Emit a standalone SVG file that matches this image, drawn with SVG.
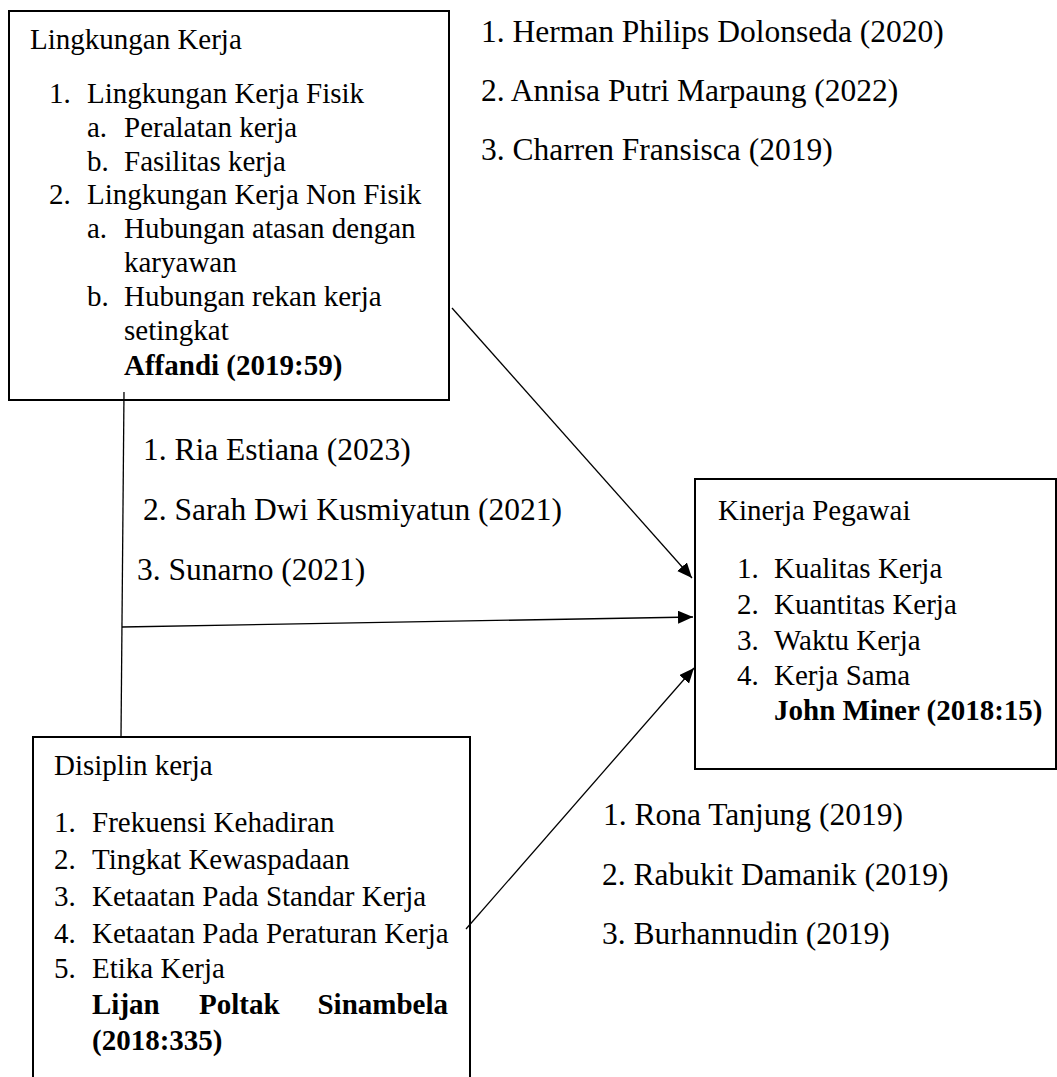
<svg xmlns="http://www.w3.org/2000/svg" width="1057" height="1077" viewBox="0 0 1057 1077">
<style>
.t{font-family:"Liberation Serif","Times New Roman",serif;font-size:29px;fill:#000}
.c{font-family:"Liberation Serif","Times New Roman",serif;font-size:31.5px;fill:#000}
.b{font-weight:bold}
.box{fill:none;stroke:#000;stroke-width:2}
.con{stroke:#000;stroke-width:1.3;fill:none}
</style>
<defs>
<marker id="arr" markerUnits="userSpaceOnUse" markerWidth="16" markerHeight="14" refX="15" refY="6.5" orient="auto">
<path d="M0,0 L15,6.5 L0,13 Z" fill="#000"/>
</marker>
</defs>
<rect width="1057" height="1077" fill="#fff"/>
<g id="connectors">
<line class="con" x1="452" y1="308" x2="692" y2="578" marker-end="url(#arr)"/>
<line class="con" x1="122" y1="627" x2="693" y2="617" marker-end="url(#arr)"/>
<line class="con" x1="124" y1="392" x2="121" y2="737"/>
<line class="con" x1="466" y1="929" x2="694" y2="668" marker-end="url(#arr)"/>
</g>
<g id="lingkungan-kerja">
<rect class="box" x="9" y="11" width="440" height="389"/>
<text class="t" x="30" y="49">Lingkungan Kerja</text>
<text class="t" y="103"><tspan x="49">1.</tspan><tspan x="87">Lingkungan Kerja Fisik</tspan></text>
<text class="t" y="137"><tspan x="87">a.</tspan><tspan x="124">Peralatan kerja</tspan></text>
<text class="t" y="171"><tspan x="87">b.</tspan><tspan x="124">Fasilitas kerja</tspan></text>
<text class="t" y="204"><tspan x="49">2.</tspan><tspan x="87">Lingkungan Kerja Non Fisik</tspan></text>
<text class="t" y="238"><tspan x="87">a.</tspan><tspan x="124">Hubungan atasan dengan</tspan></text>
<text class="t" x="124" y="272">karyawan</text>
<text class="t" y="306"><tspan x="87">b.</tspan><tspan x="124">Hubungan rekan kerja</tspan></text>
<text class="t" x="124" y="340">setingkat</text>
<text class="t b" x="124" y="375">Affandi (2019:59)</text>
</g>
<g id="kinerja-pegawai">
<rect class="box" x="695" y="479" width="361" height="290"/>
<text class="t" x="718" y="520">Kinerja Pegawai</text>
<text class="t" y="578"><tspan x="737">1.</tspan><tspan x="774">Kualitas Kerja</tspan></text>
<text class="t" y="614"><tspan x="737">2.</tspan><tspan x="774">Kuantitas Kerja</tspan></text>
<text class="t" y="650"><tspan x="737">3.</tspan><tspan x="774">Waktu Kerja</tspan></text>
<text class="t" y="685"><tspan x="737">4.</tspan><tspan x="774">Kerja Sama</tspan></text>
<text class="t b" x="774" y="720">John Miner (2018:15)</text>
</g>
<g id="disiplin-kerja">
<path class="box" d="M33,1080 L33,737 L470,737 L470,1080"/>
<text class="t" x="54" y="775">Disiplin kerja</text>
<text class="t" y="832"><tspan x="54">1.</tspan><tspan x="92">Frekuensi Kehadiran</tspan></text>
<text class="t" y="869"><tspan x="54">2.</tspan><tspan x="92">Tingkat Kewaspadaan</tspan></text>
<text class="t" y="906"><tspan x="54">3.</tspan><tspan x="92">Ketaatan Pada Standar Kerja</tspan></text>
<text class="t" y="943"><tspan x="54">4.</tspan><tspan x="92">Ketaatan Pada Peraturan Kerja</tspan></text>
<text class="t" y="978"><tspan x="54">5.</tspan><tspan x="92">Etika Kerja</tspan></text>
<text class="t b" y="1014"><tspan x="92">Lijan</tspan><tspan x="199">Poltak</tspan><tspan x="448" text-anchor="end">Sinambela</tspan></text>
<text class="t b" x="92" y="1050">(2018:335)</text>
</g>
<g id="citations-top">
<text class="c" x="481" y="42">1. Herman Philips Dolonseda (2020)</text>
<text class="c" x="481" y="101">2. Annisa Putri Marpaung (2022)</text>
<text class="c" x="481" y="160">3. Charren Fransisca (2019)</text>
</g>
<g id="citations-middle">
<text class="c" x="143" y="460">1. Ria Estiana (2023)</text>
<text class="c" x="143" y="520">2. Sarah Dwi Kusmiyatun (2021)</text>
<text class="c" x="137" y="580">3. Sunarno (2021)</text>
</g>
<g id="citations-bottom">
<text class="c" x="603" y="825">1. Rona Tanjung (2019)</text>
<text class="c" x="602" y="885">2. Rabukit Damanik (2019)</text>
<text class="c" x="602" y="944">3. Burhannudin (2019)</text>
</g>
</svg>
